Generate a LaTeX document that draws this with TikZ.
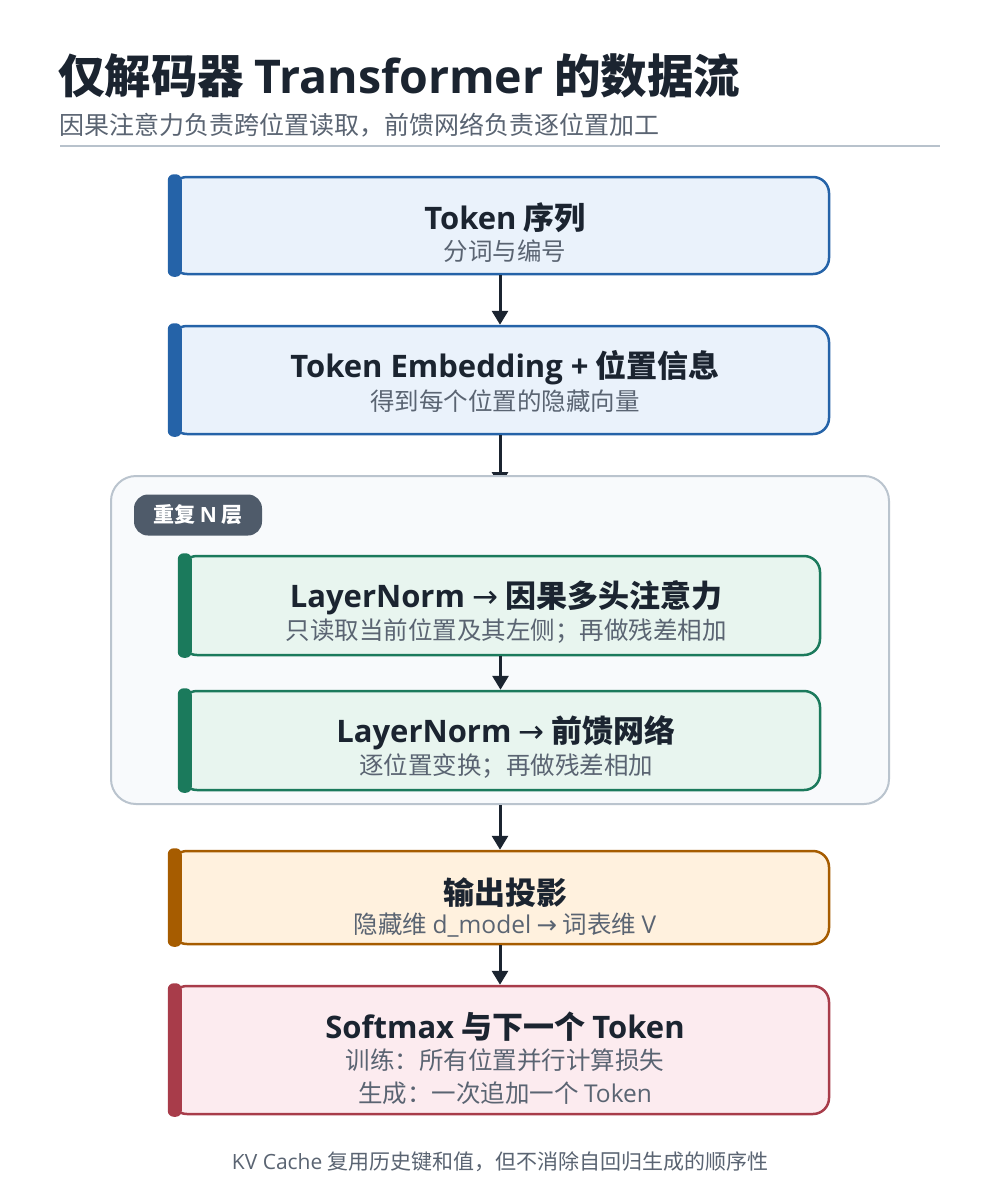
\documentclass[tikz,border=0pt]{standalone}
\usepackage{fontspec}
\setmainfont{Noto Sans CJK SC}
\newfontfamily\lat{Open Sans}
\newfontfamily\sym{DejaVu Sans}
\usetikzlibrary{arrows.meta}
\definecolor{ink}{HTML}{1B2430}
\definecolor{muted}{HTML}{5A6472}
\definecolor{rulec}{HTML}{B8C2CC}
\definecolor{blueS}{HTML}{2563A8}\definecolor{blueF}{HTML}{EAF2FB}
\definecolor{greenS}{HTML}{1B7A5C}\definecolor{greenF}{HTML}{E8F5EF}
\definecolor{orangeS}{HTML}{A65C00}\definecolor{orangeF}{HTML}{FFF1DE}
\definecolor{redS}{HTML}{A83C4A}\definecolor{redF}{HTML}{FCEBEF}
\definecolor{groupF}{HTML}{F8FAFC}\definecolor{groupS}{HTML}{BAC4CE}
\definecolor{badgeF}{HTML}{4F5B6A}
\newcommand\fsz[1]{\fontsize{#1}{#1}\selectfont}
\newcommand\rarr{{\sym\mdseries →}}
\tikzset{
  stepbox/.style={draw=#1S, fill=#1F, line width=2.5pt, rounded corners=16pt, inner sep=0pt},
  boxtitle/.style={text=ink, font=\fsz{31}\bfseries, inner sep=0pt},
  boxsub/.style={text=muted, font=\fsz{24.5}, inner sep=0pt},
  arr/.style={draw=ink, line width=3pt, -{Triangle[width=16pt,length=14pt]}},
}
\newcommand\leftbar[2]{\fill[#2, rounded corners=6pt] ([xshift=-2pt,yshift=1.5pt]#1.north west) rectangle ([xshift=12pt,yshift=-1.5pt]#1.south west);}
\begin{document}
\begin{tikzpicture}[x=1pt,y=-1pt]
\useasboundingbox[fill=white] (0,0) rectangle (1000,1200);
% header
\node[anchor=west, inner sep=0pt, text=ink, font=\fsz{46.5}\bfseries] (title) at (58,76) {仅解码器 {\lat Transformer} 的数据流};
\node[anchor=west, inner sep=0pt, text=muted, font=\fsz{25}] (subtitle) at (59,125) {因果注意力负责跨位置读取，前馈网络负责逐位置加工};
\coordinate (r1) at (60,146); \coordinate (r2) at (940,146);
\draw[rulec, line width=2pt] (r1) -- (r2);

% box 1
\node[stepbox=blue, minimum width=658pt, minimum height=97pt] (b1) at (500,225.5) {};
\leftbar{b1}{blueS}
\node[boxtitle] (b1t) at (505,218) {{\lat Token} 序列};
\node[boxsub] (b1s) at (505,251) {分词与编号};

% box 2
\node[stepbox=blue, minimum width=658pt, minimum height=108pt] (b2) at (500,380) {};
\leftbar{b2}{blueS}
\node[boxtitle] (b2t) at (505,368) {{\lat Token Embedding +} 位置信息};
\node[boxsub] (b2s) at (505,401) {得到每个位置的隐藏向量};

\draw[arr] (b1) -- (b2);
\coordinate (g2) at (500,486);
\draw[arr] (b2) -- (g2);

% group
\node[draw=groupS, fill=groupF, line width=2pt, rounded corners=25pt, minimum width=778pt, minimum height=328pt, inner sep=0pt] (grp) at (500,640) {};
\node[fill=badgeF, rounded corners=14pt, minimum width=128pt, minimum height=41pt, inner sep=0pt, text=white, font=\fsz{21}\bfseries] (badge) at (198,515) {重复 {\lat N} 层};

% box 3
\node[stepbox=green, minimum width=639pt, minimum height=99pt] (b3) at (500.5,605.5) {};
\leftbar{b3}{greenS}
\node[boxtitle] (b3t) at (506,598) {{\lat LayerNorm} \rarr{} 因果多头注意力};
\node[boxsub] (b3s) at (506,631) {只读取当前位置及其左侧；再做残差相加};

% box 4
\node[stepbox=green, minimum width=639pt, minimum height=99pt] (b4) at (500.5,740.5) {};
\leftbar{b4}{greenS}
\node[boxtitle] (b4t) at (506,733) {{\lat LayerNorm} \rarr{} 前馈网络};
\node[boxsub] (b4s) at (506,766) {逐位置变换；再做残差相加};

\draw[arr] (b3) -- (b4);

% box 5
\node[stepbox=orange, minimum width=658pt, minimum height=93pt] (b5) at (500,897.5) {};
\leftbar{b5}{orangeS}
\node[boxtitle] (b5t) at (505,893) {输出投影};
\node[boxsub] (b5s) at (505,925) {隐藏维 {\lat d\_model} \rarr{} 词表维 {\lat V}};

\draw[arr] (grp) -- (b5);

% box 6
\node[stepbox=red, minimum width=658pt, minimum height=128pt] (b6) at (500,1050) {};
\leftbar{b6}{redS}
\node[boxtitle] (b6t) at (505,1027) {{\lat Softmax} 与下一个 {\lat Token}};
\node[boxsub] (b6s) at (505,1060) {训练：所有位置并行计算损失};
\node[boxsub] (b6u) at (505,1093) {生成：一次追加一个 {\lat Token}};

\draw[arr] (b5) -- (b6);

% footer
\node[text=muted, font=\fsz{21}, inner sep=0pt] (foot) at (500,1162) {{\lat KV Cache} 复用历史键和值，但不消除自回归生成的顺序性};
\end{tikzpicture}
\end{document}
